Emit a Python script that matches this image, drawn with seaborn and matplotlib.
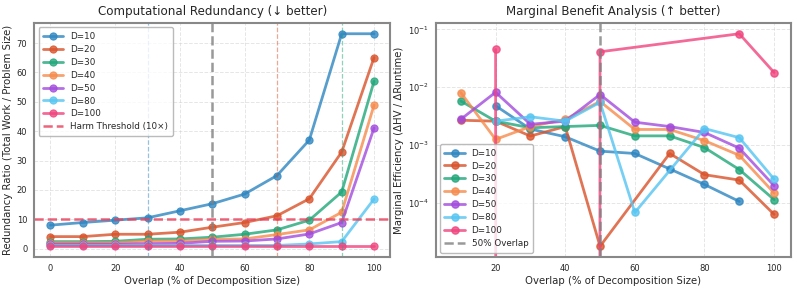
import matplotlib
matplotlib.use("Agg")
import matplotlib.pyplot as plt
import seaborn as sns
import numpy as np
import pandas as pd

sns.set_style("whitegrid")
plt.rcParams['font.family'] = ['DejaVu Sans']

# --- data ---
overlap = [0, 10, 20, 30, 40, 50, 60, 70, 80, 90, 100]
dims = ['D=10', 'D=20', 'D=30', 'D=40', 'D=50', 'D=80', 'D=100']
colors = ['#2e86c1', '#d9532b', '#21a67a', '#f58b4c', '#a24bdd', '#55c5f2', '#f0457f']

red_d10 = [8.0, 8.9, 9.7, 10.5, 12.9, 15.3, 18.6, 24.9, 37.0, 73.2, 73.2]
red_d20 = [4.1, 4.1, 4.9, 4.9, 5.6, 7.3, 8.9, 11.2, 17.0, 32.9, 65.1]
red_d30 = [2.4, 2.4, 2.5, 3.2, 3.3, 3.9, 4.9, 6.4, 9.7, 19.3, 57.0]
red_d40 = [2.0, 2.0, 2.0, 2.6, 2.6, 3.2, 3.3, 4.8, 6.4, 12.4, 48.9]
red_d50 = [1.5, 1.5, 1.5, 1.7, 1.8, 2.5, 2.6, 3.3, 5.0, 8.9, 41.1]
red_d80 = [1.1, 1.1, 1.1, 1.1, 1.1, 1.1, 1.1, 1.1, 1.6, 2.4, 16.9]
red_d100 = [0.8, 0.8, 0.8, 0.8, 0.8, 0.8, 0.8, 0.8, 0.8, 0.8, 0.8]
redundancy = [red_d10, red_d20, red_d30, red_d40, red_d50, red_d80, red_d100]

harm_threshold = 10
harm_points = [30, 70, 90]          # first overlap over threshold for D=10, 20, 30
harm_colors = colors[:3]

# marginal efficiency (zero = no HV gain)
eff_x_d10 = [20, 30, 40, 50, 60, 70, 80, 90]
eff_d10 = [0.0048, 0.0019, 0.0014, 0.00079, 0.00072, 0.00039, 0.00021, 0.000107]
eff_x_d20 = [10, 20, 30, 40, 50, 70, 80, 90, 100]
eff_d20 = [0.0027, 0.0026, 0.00144, 0.0021, 0.000018, 0.00072, 0.00031, 0.00025, 0.000064]
eff_x_d30 = [10, 20, 30, 40, 50, 60, 70, 80, 90, 100]
eff_d30 = [0.0058, 0.0026, 0.0020, 0.0021, 0.0022, 0.00145, 0.00145, 0.00091, 0.00038, 0.000115]
eff_x_d40 = [10, 20, 30, 40, 50, 60, 70, 80, 90, 100]
eff_d40 = [0.0081, 0.00126, 0.0021, 0.0028, 0.0057, 0.00187, 0.00187, 0.0012, 0.00067, 0.00015]
eff_x_d50 = [10, 20, 30, 40, 50, 60, 70, 80, 90, 100]
eff_d50 = [0.0028, 0.0082, 0.0023, 0.0026, 0.0075, 0.0025, 0.0021, 0.00166, 0.00089, 0.0002]
eff_x_d80 = [20, 30, 40, 50, 60, 80, 90, 100]
eff_d80 = [0.0026, 0.0031, 0.0026, 0.0055, 0.000069, 0.00194, 0.00135, 0.00026]
eff_x_d100 = [20, 30, 40, 50, 90, 100]
eff_d100 = [0.045, 0.0, 0.0, 0.041, 0.084, 0.018]
eff_x = [eff_x_d10, eff_x_d20, eff_x_d30, eff_x_d40, eff_x_d50, eff_x_d80, eff_x_d100]
eff_y = [eff_d10, eff_d20, eff_d30, eff_d40, eff_d50, eff_d80, eff_d100]

# --- figure ---
fig = plt.figure(figsize=(7.98, 2.89), dpi=100)
ax1 = fig.add_axes([0.043, 0.111, 0.446, 0.809])
ax2 = fig.add_axes([0.546, 0.111, 0.445, 0.809])

line_kw = dict(marker='o', markersize=5.2, linewidth=2.0, alpha=0.8)
leg_kw = dict(fontsize=6.3, frameon=True, edgecolor='#aaaaaa', fancybox=True,
              borderpad=0.5, labelspacing=0.45, handlelength=2.3, handletextpad=0.8)

df = pd.DataFrame({
    'overlap': np.tile(overlap, len(dims)),
    'ratio': np.concatenate(redundancy),
    'dim': np.repeat(dims, len(overlap)),
})
for d, c in zip(dims, colors):
    sub = df[df['dim'] == d]
    sns.lineplot(data=sub, x='overlap', y='ratio', ax=ax1, color=c, label=d,
                 markeredgecolor=c, **line_kw)

ax1.axhline(harm_threshold, color='#e8405a', linestyle='--', linewidth=1.8,
            alpha=0.8, label='Harm Threshold (10×)')
for hp, hc in zip(harm_points, harm_colors):
    ax1.axvline(hp, color=hc, linestyle='--', linewidth=0.9, alpha=0.5)
ax1.axvline(50, color='gray', linestyle='--', linewidth=1.8, alpha=0.8)

lab_fs = 7.3
ax1.set_xlabel('Overlap (% of Decomposition Size)', fontsize=lab_fs, labelpad=2)
ax1.set_ylabel('Redundancy Ratio (Total Work / Problem Size)', fontsize=lab_fs, labelpad=3)
ax1.set_title('Computational Redundancy (↓ better)', fontsize=8.6, pad=6)
ax1.legend(loc='upper left', **leg_kw)

for x, y, d, c in zip(eff_x, eff_y, dims, colors):
    ax2.plot(x, y, color=c, label=d, markeredgecolor=c, **line_kw)
ax2.axvline(50, color='gray', linestyle='--', linewidth=1.8, alpha=0.8, label='50% Overlap')
ax2.set_yscale('log')
ax2.set_xlim(2.8, 104.8)
ax2.set_xticks([20, 40, 60, 80, 100])
ax2.set_xlabel('Overlap (% of Decomposition Size)', fontsize=lab_fs, labelpad=2)
ax2.set_ylabel('Marginal Efficiency (ΔHV / ΔRuntime)', fontsize=lab_fs, labelpad=3)
ax2.set_title('Marginal Benefit Analysis (↑ better)', fontsize=8.6, pad=6)
ax2.legend(loc='lower left', **leg_kw)

for ax in (ax1, ax2):
    ax.grid(True, linestyle='--', alpha=0.5, linewidth=0.7)
    ax.grid(False, which='minor')
    ax.tick_params(labelsize=6.0, length=3, width=0.8, color='#555555', pad=2)
    ax.tick_params(which='minor', length=1.8, width=0.6, color='#555555')
    for s in ax.spines.values():
        s.set_color('#888888')
        s.set_linewidth(1.5)
ax1.set_xticks([0, 20, 40, 60, 80, 100])

fig.savefig('out.png', dpi=100)
